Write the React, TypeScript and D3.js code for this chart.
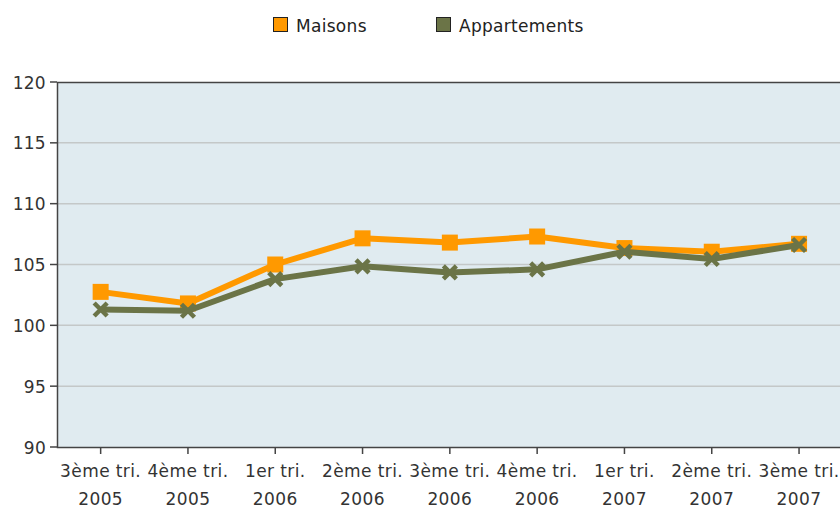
import React, { useEffect, useRef } from 'react';
import * as d3 from 'd3';

const quarters = ['3ème tri.', '4ème tri.', '1er tri.', '2ème tri.', '3ème tri.', '4ème tri.', '1er tri.', '2ème tri.', '3ème tri.'];
const years = ['2005', '2005', '2006', '2006', '2006', '2006', '2007', '2007', '2007'];
const maisons = [102.75, 101.8, 105.0, 107.15, 106.8, 107.3, 106.35, 106.05, 106.7];
const appartements = [101.3, 101.2, 103.8, 104.85, 104.35, 104.6, 106.05, 105.45, 106.6];
const yTicks = [90, 95, 100, 105, 110, 115, 120];

const WIDTH = 840;
const HEIGHT = 508;
const FONT = '"DejaVu Sans", Verdana, sans-serif';

const App: React.FC = () => {
  const svgRef = useRef<SVGSVGElement>(null);

  useEffect(() => {
    if (!svgRef.current) return;
    const svg = d3.select(svgRef.current);
    svg.selectAll('*').remove();

    const left = 57;
    const top = 82;
    const bottom = 447;
    const step = 87.3;

    const x = d3.scaleBand<number>()
      .domain(d3.range(quarters.length))
      .range([left, left + step * quarters.length])
      .padding(0);
    const cx = (i: number) => (x(i) || 0) + x.bandwidth() / 2;

    const y = d3.scaleLinear().domain([90, 120]).range([bottom, top]);

    // plot background
    svg.append('rect')
      .attr('x', left)
      .attr('y', top)
      .attr('width', WIDTH - left + 10)
      .attr('height', bottom - top)
      .attr('fill', '#e0ebf0');

    // grid
    svg.append('g')
      .selectAll('line')
      .data(yTicks.filter(t => t !== 90 && t !== 120))
      .enter()
      .append('line')
      .attr('x1', left)
      .attr('x2', WIDTH)
      .attr('y1', d => y(d))
      .attr('y2', d => y(d))
      .attr('stroke', '#c4c8c8')
      .attr('stroke-width', 1.5);

    // frame (top, left, bottom)
    svg.append('path')
      .attr('d', `M${WIDTH},${top + 0.5}H${left + 0.5}V${bottom + 0.5}H${WIDTH}`)
      .attr('fill', 'none')
      .attr('stroke', '#444')
      .attr('stroke-width', 1.5);

    // y axis
    const yAxis = svg.append('g');
    yTicks.forEach(t => {
      yAxis.append('line')
        .attr('x1', left - 7).attr('x2', left)
        .attr('y1', y(t)).attr('y2', y(t))
        .attr('stroke', '#444').attr('stroke-width', 1.5);
      yAxis.append('text')
        .attr('x', left - 11)
        .attr('y', y(t) + 6.5)
        .attr('text-anchor', 'end')
        .style('font-family', FONT)
        .style('font-size', '17px')
        .style('letter-spacing', '0.3px')
        .style('fill', '#333')
        .text(t);
    });

    // x axis
    const xAxis = svg.append('g');
    quarters.forEach((q, i) => {
      xAxis.append('line')
        .attr('x1', cx(i)).attr('x2', cx(i))
        .attr('y1', bottom).attr('y2', bottom + 7)
        .attr('stroke', '#444').attr('stroke-width', 1.5);
      const t = xAxis.append('text')
        .attr('text-anchor', 'middle')
        .style('font-family', FONT)
        .style('font-size', '17px')
        .style('letter-spacing', '0.4px')
        .style('fill', '#333');
      t.append('tspan').attr('x', cx(i)).attr('y', 477).text(q);
      t.append('tspan').attr('x', cx(i)).attr('y', 505).text(years[i]);
    });

    const line = d3.line<number>()
      .x((_, i) => cx(i))
      .y(d => y(d));

    // Maisons
    svg.append('path')
      .datum(maisons)
      .attr('d', line)
      .attr('fill', 'none')
      .attr('stroke', '#ff9900')
      .attr('stroke-width', 6)
      .attr('stroke-linejoin', 'round');
    svg.append('g')
      .selectAll('rect')
      .data(maisons)
      .enter()
      .append('rect')
      .attr('x', (_, i) => cx(i) - 8)
      .attr('y', d => y(d) - 8)
      .attr('width', 16)
      .attr('height', 16)
      .attr('fill', '#ff9900');

    // Appartements
    svg.append('path')
      .datum(appartements)
      .attr('d', line)
      .attr('fill', 'none')
      .attr('stroke', '#6b7447')
      .attr('stroke-width', 6)
      .attr('stroke-linejoin', 'round');
    svg.append('g')
      .selectAll('path')
      .data(appartements)
      .enter()
      .append('path')
      .attr('d', (d, i) => {
        const px = cx(i);
        const py = y(d);
        const s = 6.5;
        return `M${px - s},${py - s}L${px + s},${py + s}M${px - s},${py + s}L${px + s},${py - s}`;
      })
      .attr('stroke', '#6b7447')
      .attr('stroke-width', 4.5)
      .attr('fill', 'none');

    // legend
    const legend = svg.append('g');
    const items = [
      { name: 'Maisons', color: '#ff9900', x: 273 },
      { name: 'Appartements', color: '#6b7447', x: 436 }
    ];
    items.forEach(it => {
      legend.append('rect')
        .attr('x', it.x + 0.5)
        .attr('y', 17.5)
        .attr('width', 14)
        .attr('height', 14)
        .attr('fill', it.color)
        .attr('stroke', '#222')
        .attr('stroke-width', 1);
      legend.append('text')
        .attr('x', it.x + 23)
        .attr('y', 32)
        .style('font-family', FONT)
        .style('font-size', '17px')
        .style('letter-spacing', '0.3px')
        .style('fill', '#222')
        .text(it.name);
    });
  }, []);

  return (
    <svg
      ref={svgRef}
      width={WIDTH}
      height={HEIGHT}
      style={{ position: 'absolute', left: 0, top: 0, background: '#fff' }}
    />
  );
};

export default App;
